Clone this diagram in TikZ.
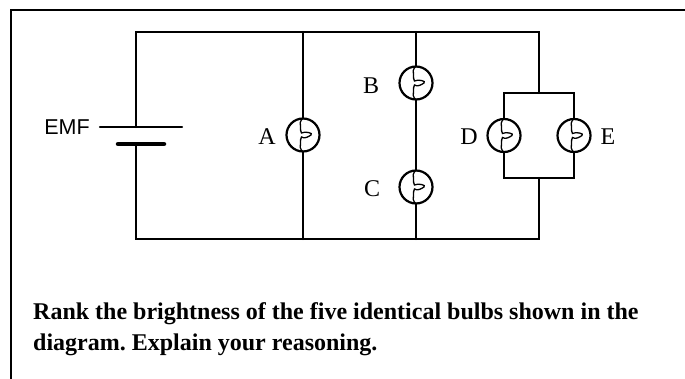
\documentclass[tikz,border=0pt]{standalone}
\usepackage{fontspec}
\setmainfont{Liberation Serif}
\newfontfamily\emffont{Liberation Sans}
\tikzset{
  wire/.style={line width=2.2pt,line cap=round,line join=miter},
  frameline/.style={line width=2.2pt,line join=miter},
  bulb/.style={circle,draw,line width=2.2pt,minimum size=33pt,inner sep=0pt,outer sep=0pt,
    path picture={\draw[line width=1.3pt]
      ([yshift=17pt]path picture bounding box.center)
      .. controls +(-3pt,-3pt) and +(-1pt,3pt) .. ([xshift=-2.5pt,yshift=8pt]path picture bounding box.center)
      .. controls +(1pt,-3pt) and +(-2pt,2pt) .. ([xshift=-1.5pt,yshift=2pt]path picture bounding box.center)
      .. controls +(3pt,2pt) and +(3pt,2pt) .. ([xshift=8pt]path picture bounding box.center)
      .. controls +(-3pt,-2pt) and +(3pt,-2pt) .. ([xshift=-1.5pt,yshift=-2pt]path picture bounding box.center)
      .. controls +(-2pt,-2pt) and +(1pt,3pt) .. ([xshift=-2.5pt,yshift=-8pt]path picture bounding box.center)
      .. controls +(-1pt,-3pt) and +(-3pt,3pt) .. ([yshift=-17pt]path picture bounding box.center);}},
  serlabel/.style={font=\fontsize{24pt}{26pt}\selectfont,inner sep=0pt},
  question/.style={font=\fontsize{24pt}{31pt}\selectfont\bfseries\frenchspacing,align=left,anchor=north west,inner sep=0pt}
}
\begin{document}
\begin{tikzpicture}[x=1pt,y=-1pt]
\useasboundingbox (0,0) rectangle (685,379);
\coordinate (FBL) at (11,379);
\coordinate (FTL) at (11,10);
\coordinate (FTR) at (685,10);
\draw[frameline] (FBL) -- (FTL) -- (FTR);
% nodes
\node[bulb] (A) at (303,135) {};
\node[bulb] (B) at (416,83) {};
\node[bulb] (C) at (416,187) {};
\node[bulb] (D) at (504,135.5) {};
\node[bulb] (E) at (574,135.5) {};
\coordinate (TL) at (136,32);
\coordinate (TA) at (303,32);
\coordinate (TB) at (416,32);
\coordinate (TR) at (539,32);
\coordinate (BL) at (136,239);
\coordinate (BA) at (303,239);
\coordinate (BC) at (416,239);
\coordinate (BR) at (539,239);
\coordinate (P1) at (136,127);
\coordinate (P1l) at (100,127);
\coordinate (P1r) at (182,127);
\coordinate (P2) at (136,144);
\coordinate (P2l) at (118,144);
\coordinate (P2r) at (164,144);
\coordinate (DT) at (504,93);
\coordinate (ET) at (574,93);
\coordinate (DB) at (504,178);
\coordinate (EB) at (574,178);
\coordinate (MT) at (539,93);
\coordinate (MB) at (539,178);
% wires
\draw[wire] (P1) -- (TL) -- (TR) -- (MT);
\draw[wire] (P2) -- (BL) -- (BR) -- (MB);
\draw[wire] (P1l) -- (P1r);
\draw[line width=4.5pt,line cap=round] (P2l) -- (P2r);
\draw[wire] (TA) -- (A.north);
\draw[wire] (A.south) -- (BA);
\draw[wire] (TB) -- (B.north);
\draw[wire] (B.south) -- (C.north);
\draw[wire] (C.south) -- (BC);
\draw[wire] (D.north) -- (DT) -- (ET) -- (E.north);
\draw[wire] (D.south) -- (DB) -- (EB) -- (E.south);
% labels
\node[inner sep=0pt,font=\emffont\fontsize{21.5pt}{24pt}\selectfont] (emf) at (67,127) {EMF};
\node[serlabel] (la) at (267,137) {A};
\node[serlabel] (lb) at (371,86) {B};
\node[serlabel] (lc) at (372,189) {C};
\node[serlabel] (ld) at (469,137) {D};
\node[serlabel] (le) at (608,137) {E};
\node[question] (q) at (33,302) {Rank the brightness of the five identical bulbs shown in the\\diagram. Explain your reasoning.};
\end{tikzpicture}
\end{document}
